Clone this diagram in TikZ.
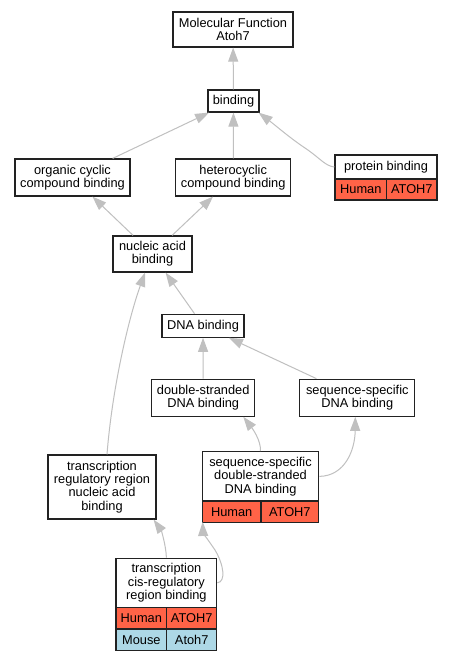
\documentclass[tikz,border=0pt]{standalone}
\usepackage{fontspec}
\setmainfont{Liberation Sans}
\usetikzlibrary{arrows.meta}
\definecolor{edgegray}{HTML}{C0C0C0}
\definecolor{human}{HTML}{FF6347}
\definecolor{mouse}{HTML}{ADD8E6}
\definecolor{boxline}{HTML}{222222}
\begin{document}
\begin{tikzpicture}[x=1pt,y=-1pt,
  term/.style={draw=boxline, line width=1.2pt, fill=white, inner sep=0pt, align=center,
    font=\fontsize{12.8}{13.3}\selectfont},
  hcell/.style={term, fill=human},
  mcell/.style={term, fill=mouse},
  edge/.style={draw=edgegray, line width=1pt, -{Triangle[length=14pt,width=10pt]}}]
\fill[white] (0,0) rectangle (453,661);
\useasboundingbox (0,0) rectangle (453,661);

% nodes
\node[term, minimum width=120pt, minimum height=35pt] (mf) at (233,29.5) {Molecular Function\\Atoh7};
\node[term, minimum width=51pt, minimum height=22pt] (bind) at (233.5,101) {binding};
\node[term, minimum width=115pt, minimum height=37pt] (org) at (72.5,177.5) {organic cyclic\\compound binding};
\node[term, minimum width=115pt, minimum height=37pt] (het) at (233.2,177.5) {heterocyclic\\compound binding};
\node[term, minimum width=102pt, minimum height=24pt] (prot) at (386,167) {protein binding};
\node[hcell, minimum width=51.7pt, minimum height=21pt] (protH) at (360.85,189.5) {Human};
\node[hcell, minimum width=50.3pt, minimum height=21pt] (protG) at (411.85,189.5) {ATOH7};
\node[term, minimum width=79pt, minimum height=36pt] (nuc) at (152.5,254) {nucleic acid\\binding};
\node[term, minimum width=82pt, minimum height=23pt] (dna) at (203,325.7) {DNA binding};
\node[term, minimum width=103pt, minimum height=37pt] (ds) at (203.2,397.7) {double-stranded\\DNA binding};
\node[term, minimum width=115pt, minimum height=37pt] (ss) at (357.3,397.7) {sequence-specific\\DNA binding};
\node[term, minimum width=116.4pt, minimum height=49.3pt] (ssds) at (260.5,476.4) {sequence-specific\\double-stranded\\DNA binding};
\node[hcell, minimum width=58.7pt, minimum height=21.3pt] (ssdsH) at (231.65,511.7) {Human};
\node[hcell, minimum width=57.7pt, minimum height=21.3pt] (ssdsG) at (289.85,511.7) {ATOH7};
\node[term, minimum width=108pt, minimum height=64pt] (trr) at (102,487) {transcription\\regulatory region\\nucleic acid\\binding};
\node[term, minimum width=100.7pt, minimum height=49pt] (cis) at (166.4,582.8) {transcription\\cis-regulatory\\region binding};
\node[hcell, minimum width=50.7pt, minimum height=21.7pt] (cisH) at (141.35,618.2) {Human};
\node[hcell, minimum width=50pt, minimum height=21.7pt] (cisG) at (191.7,618.2) {ATOH7};
\node[mcell, minimum width=50.7pt, minimum height=21.7pt] (cisM) at (141.35,639.9) {Mouse};
\node[mcell, minimum width=50pt, minimum height=21.7pt] (cisA) at (191.7,639.9) {Atoh7};

% edges
\draw[edge] (bind) -- (mf);
\draw[edge] (org) -- (bind);
\draw[edge] (het) -- (bind);
\draw[edge] (prot.west) .. controls (325,166) and (320,158) .. (305,148)
  .. controls (290,138) and (275,125) .. ([xshift=-1pt]bind.south east);
\draw[edge] (nuc) -- (org);
\draw[edge] (nuc) -- (het);
\draw[edge] (dna) -- (nuc);
\draw[edge] (ds) -- (dna);
\draw[edge] (ss) -- (dna);
\draw[edge] (ssds.north) .. controls (261,440) and (252,428) .. ([xshift=-12pt]ds.south east);
\draw[edge] (ssds.east) .. controls (345,476) and (355,450) .. ([xshift=-2pt]ss.south);
\draw[edge] ([xshift=5pt]trr.north) .. controls (112,390) and (128,320) .. ([xshift=-7.5pt]nuc.south);
\draw[edge] (cis.north) .. controls (166,545) and (161,530) .. ([xshift=-3pt]trr.south east);
\draw[edge] (cis.east) .. controls (226,582) and (224,565) .. (215,550)
  .. controls (208,540) and (203,532) .. ([xshift=1pt,yshift=1pt]ssdsH.south west);
\end{tikzpicture}
\end{document}
